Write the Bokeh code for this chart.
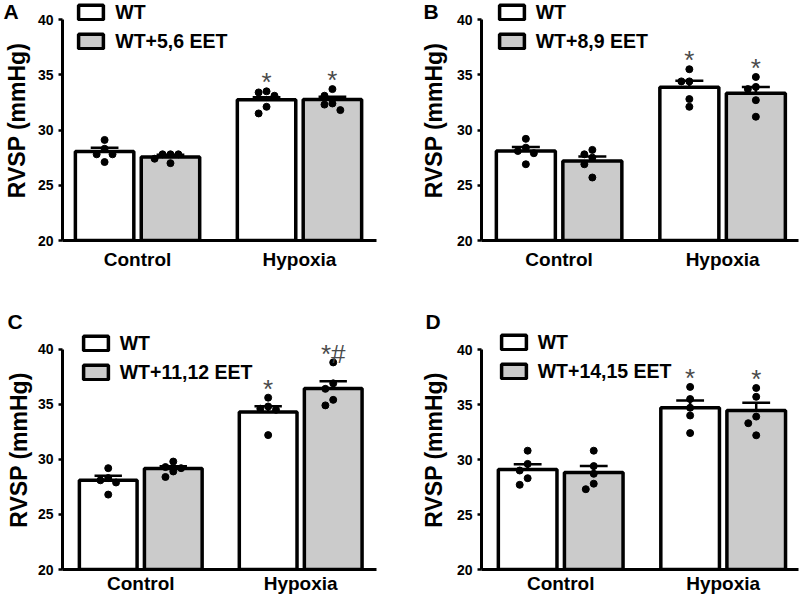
from bokeh.plotting import figure
from bokeh.layouts import gridplot
from bokeh.models import Range1d, FixedTicker, Legend, LegendItem
from bokeh.core.properties import value
from bokeh.embed import file_html
from bokeh.resources import INLINE

# ---------------- data ----------------
categories = ["Control", "Hypoxia"]
panel_letters = ["A", "B", "C", "D"]
series_labels = ["WT", ["WT+5,6 EET", "WT+8,9 EET", "WT+11,12 EET", "WT+14,15 EET"]]
y_ticks = [20, 25, 30, 35, 40]

# bar means / SEM, order [Control, Hypoxia]
a_wt_mean = [28.05, 32.73]
a_wt_sem = [0.35, 0.24]
a_eet_mean = [27.55, 32.76]
a_eet_sem = [0.20, 0.24]

b_wt_mean = [28.10, 33.88]
b_wt_sem = [0.37, 0.57]
b_eet_mean = [27.20, 33.33]
b_eet_sem = [0.40, 0.57]

c_wt_mean = [28.11, 34.31]
c_wt_sem = [0.39, 0.52]
c_eet_mean = [29.17, 36.43]
c_eet_sem = [0.21, 0.67]

d_wt_mean = [29.09, 34.70]
d_wt_sem = [0.48, 0.66]
d_eet_mean = [28.82, 34.45]
d_eet_sem = [0.60, 0.70]

# individual animals, [Control, Hypoxia]
a_wt_dots = [[29.1, 28.3, 27.8, 27.8, 27.1], [33.5, 33.4, 33.1, 32.1, 31.5]]
a_eet_dots = [[27.8, 27.8, 27.8, 27.4, 27.0], [33.7, 33.1, 32.4, 32.3, 31.8]]
b_wt_dots = [[29.2, 28.4, 28.1, 27.9, 26.9], [35.5, 34.4, 34.4, 32.8, 32.1]]
b_eet_dots = [[28.2, 27.8, 27.5, 26.9, 25.7], [34.8, 33.9, 33.7, 32.7, 31.2]]
c_wt_dots = [[29.2, 28.3, 28.1, 27.9, 26.8], [35.6, 34.8, 34.6, 34.5, 32.2]]
c_eet_dots = [[29.8, 29.3, 29.2, 28.9, 28.4], [38.8, 36.9, 36.4, 35.4, 34.9]]
d_wt_dots = [[30.8, 29.6, 29.0, 28.3, 27.7], [36.6, 35.5, 34.7, 34.0, 32.4]]
d_eet_dots = [[30.8, 29.4, 28.7, 27.8, 27.3], [36.5, 35.7, 33.9, 33.3, 32.2]]

# significance marks
a_marks = [["", "*"], ["", "*"]]
b_marks = [["", "*"], ["", "*"]]
c_marks = [["", "*"], ["", "*#"]]
d_marks = [["", "*"], ["", "*"]]

panels_data = [
    (a_wt_mean, a_wt_sem, a_eet_mean, a_eet_sem, a_wt_dots, a_eet_dots, a_marks),
    (b_wt_mean, b_wt_sem, b_eet_mean, b_eet_sem, b_wt_dots, b_eet_dots, b_marks),
    (c_wt_mean, c_wt_sem, c_eet_mean, c_eet_sem, c_wt_dots, c_eet_dots, c_marks),
    (d_wt_mean, d_wt_sem, d_eet_mean, d_eet_sem, d_wt_dots, d_eet_dots, d_marks),
]

# ---------------- layout (pixels) ----------------
FONT = "Liberation Sans"
GRAY = "#cbcbcb"
UNIT = 163.5        # px between group centres
BAR_OFF = 33.25
BAR_W = 59
CAP = 28
geoms = [
    dict(h=300, top=0, left=59, right=376, y40=19, y20=240, c0=75.75, leg_x=13.3, leg_top=1.7,
         let_base=18.3, xstand=8, ylstand=5),
    dict(h=300, top=0, left=81, right=398, y40=19, y20=240, c0=77.6, leg_x=14.7, leg_top=1.7,
         let_base=18.3, xstand=8, ylstand=7),
    dict(h=297, top=30, left=55, right=376, y40=49, y20=269.3, c0=80.0, leg_x=17.7, leg_top=32.7,
         let_base=28, xstand=3, ylstand=3),
    dict(h=297, top=30, left=79, right=398, y40=49.3, y20=269.3, c0=79.7, leg_x=16.7, leg_top=31.7,
         let_base=28, xstand=3, ylstand=7),
]
LET_X = [0, 23, 0, 23]


def swarm(vals, center, ppu_y):
    placed = []
    xs = []
    for v in vals:
        for off in [0, -8, 8, -16, 16]:
            ok = True
            for (px, pv) in placed:
                dx = off - px
                dy = (v - pv) * ppu_y
                if dx * dx + dy * dy < 7.5 * 7.5:
                    ok = False
                    break
            if ok:
                break
        placed.append((off, v))
        xs.append(center + off / UNIT)
    return xs


figs = []
for i, (g, pdata) in enumerate(zip(geoms, panels_data)):
    wt_mean, wt_sem, eet_mean, eet_sem, wt_dots, eet_dots, marks = pdata
    W = 400
    H = g["h"]
    T = g["top"]
    bl = g["left"]
    br = W - g["right"]
    fh = round(g["y20"] - T)
    bb = H - round(g["y20"])
    fw = W - bl - br
    ppu_y = (g["y20"] - g["y40"]) / 20.0
    y_end = 20 + fh / ppu_y
    x_start = -g["c0"] / UNIT
    x_end = x_start + fw / UNIT

    p = figure(width=W, height=H, x_range=Range1d(x_start, x_end), y_range=Range1d(20, y_end),
               output_backend="svg", toolbar_location=None, title=panel_letters[i],
               min_border_left=bl, min_border_right=br, min_border_top=T, min_border_bottom=bb)
    p.outline_line_color = None
    p.xgrid.visible = False
    p.ygrid.visible = False
    p.background_fill_color = "white"

    # panel letter as title, pulled to the top-left corner
    p.title.align = "left"
    p.title.vertical_align = "bottom"
    p.title.offset = LET_X[i] - bl
    p.title.standoff = 2 * (T - (g["let_base"] + 4))
    p.title.text_font = FONT
    p.title.text_font_style = "bold"
    p.title.text_font_size = "21px"
    p.title.text_color = "black"

    off = BAR_OFF / UNIT
    bw = BAR_W / UNIT
    cap = CAP / UNIT / 2
    idx = list(range(len(categories)))
    renderers = []
    for s, (means, sems, dots, fill) in enumerate([(wt_mean, wt_sem, wt_dots, "white"),
                                                   (eet_mean, eet_sem, eet_dots, GRAY)]):
        xs = [k + (-off if s == 0 else off) for k in idx]
        r = p.vbar(x=xs, top=means, bottom=20, width=bw, fill_color=fill,
                   line_color="black", line_width=3.5)
        renderers.append(r)
        ups = [m + e for m, e in zip(means, sems)]
        p.segment(x0=xs, y0=means, x1=xs, y1=ups, line_color="black", line_width=2.5)
        p.segment(x0=[x - cap for x in xs], y0=ups, x1=[x + cap for x in xs], y1=ups,
                  line_color="black", line_width=2.5)
        dx, dy = [], []
        for k, x in enumerate(xs):
            vals = sorted(dots[k], reverse=True)
            dx += swarm(vals, x, ppu_y)
            dy += vals
        p.scatter(x=dx, y=dy, size=7, color="black")
        mx = [x for k, x in enumerate(xs) if marks[s][k]]
        my = [max(dots[k]) + 0.8 for k in idx if marks[s][k]]
        mt = [marks[s][k] for k in idx if marks[s][k]]
        p.text(x=mx, y=my, text=mt, text_font=value(FONT), text_font_size=value("26px"),
               text_color="#4a4a4a", text_align="center", text_baseline="middle")

    # axes
    p.yaxis.bounds = (20, 40)
    p.yaxis.ticker = FixedTicker(ticks=y_ticks)
    p.yaxis.minor_tick_line_color = None
    p.yaxis.major_tick_out = 4
    p.yaxis.major_tick_in = 0
    p.yaxis.major_tick_line_width = 2.5
    p.yaxis.axis_line_width = 3
    p.yaxis.major_label_standoff = 5
    p.yaxis.major_label_text_font = FONT
    p.yaxis.major_label_text_font_style = "bold"
    p.yaxis.major_label_text_font_size = "14px"
    p.yaxis.major_label_text_color = "black"
    p.yaxis.axis_label = "RVSP (mmHg)"
    p.yaxis.axis_label_text_font = FONT
    p.yaxis.axis_label_text_font_style = "bold"
    p.yaxis.axis_label_text_font_size = "23px"
    p.yaxis.axis_label_text_color = "black"
    p.yaxis.axis_label_standoff = g["ylstand"]

    p.xaxis.ticker = FixedTicker(ticks=idx)
    p.xaxis.major_label_overrides = {k: c for k, c in zip(idx, categories)}
    p.xaxis.minor_tick_line_color = None
    p.xaxis.major_tick_line_color = None
    p.xaxis.major_tick_out = 0
    p.xaxis.major_tick_in = 0
    p.xaxis.axis_line_width = 3
    p.xaxis.major_label_standoff = g["xstand"]
    p.xaxis.major_label_text_font = FONT
    p.xaxis.major_label_text_font_style = "bold"
    p.xaxis.major_label_text_font_size = "19px"
    p.xaxis.major_label_text_color = "black"

    # legend
    gh = 18
    gray_center = g["leg_top"] + 40.0
    legend = Legend(items=[LegendItem(label=series_labels[0], renderers=[renderers[0]]),
                           LegendItem(label=series_labels[1][i], renderers=[renderers[1]])],
                    location=(g["leg_x"], fh - (gray_center + 11 - T)),
                    glyph_width=31, glyph_height=gh, label_height=gh, spacing=6,
                    padding=0, margin=0, label_standoff=9,
                    border_line_color=None, background_fill_alpha=0,
                    label_text_font=FONT, label_text_font_style="bold",
                    label_text_font_size="19.5px", label_text_color="black")
    p.add_layout(legend)
    figs.append(p)

grid = gridplot([[figs[0], figs[1]], [figs[2], figs[3]]], toolbar_location=None)
open("out.html", "w").write(file_html(grid, INLINE))
